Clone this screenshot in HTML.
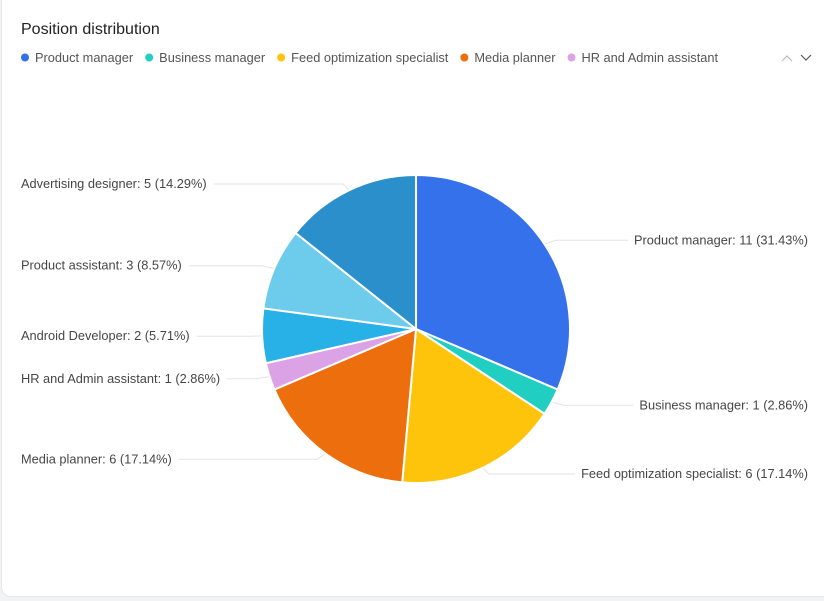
<!DOCTYPE html>
<html><head><meta charset="utf-8"><style>
body{margin:0;width:824px;height:601px;background:#f2f3f5;font-family:"Liberation Sans",sans-serif;overflow:hidden}
#card{position:absolute;left:1px;top:-10px;width:840px;height:605px;background:#fff;border-radius:10px;border:1px solid #e8e8e8}
svg{position:absolute;left:0;top:0}
text{font-family:"Liberation Sans",sans-serif}
</style></head><body>
<div id="card"></div>
<svg id="chart" width="824" height="601">
<text x="21" y="34" font-size="16" fill="#222">Position distribution</text>
<g id="legend"></g>
<g id="pager">
<path d="M782 61 L787 56 L792 61" fill="none" stroke="#bbb" stroke-width="1.2"/>
<path d="M801 55 L806 60 L811 55" fill="none" stroke="#555" stroke-width="1.2"/>
</g>
<g id="lines"></g><g id="slices"></g><g id="labels"></g>
</svg>
<script>
const categories=["Product manager","Business manager","Feed optimization specialist","Media planner","HR and Admin assistant","Android Developer","Product assistant","Advertising designer"];
const values=[11,1,6,6,1,2,3,5];
const colors=["#3571ea","#20cfc1","#fec40c","#ec6e0d","#dba2e5","#27b1e6","#6dcbec","#2a8fcb"];
const legendCount=5;
const NS="http://www.w3.org/2000/svg";
function mk(t,a,p){const e=document.createElementNS(NS,t);for(const k in a)e.setAttribute(k,a[k]);p.appendChild(e);return e;}
const lg=document.getElementById('legend');let lx=21;
for(let i=0;i<legendCount;i++){
 const g=mk('g',{},lg);
 
 
 mk('circle',{cx:lx+4,cy:57.5,r:4,fill:colors[i]},g);
 const t=mk('text',{x:lx+14,y:62,'font-size':12.8,fill:'#555'},g);t.textContent=categories[i];
 lx+=14+t.getComputedTextLength()+12;
}
const cx=416,cy=329,r=154;
const total=values.reduce((a,b)=>a+b,0);
const ang=v=>v/total*2*Math.PI;
function pt(a,rr){return [cx+rr*Math.sin(a),cy-rr*Math.cos(a)];}
let acc=0;
const sg=document.getElementById('slices'),lg2=document.getElementById('lines'),tg=document.getElementById('labels');
values.forEach((v,i)=>{
 const a0=ang(acc),a1=ang(acc+v);acc+=v;
 const p0=pt(a0,r),p1=pt(a1,r);const large=(a1-a0)>Math.PI?1:0;
 const s=mk('path',{d:`M${cx},${cy} L${p0[0]},${p0[1]} A${r},${r} 0 ${large} 1 ${p1[0]},${p1[1]} Z`,fill:colors[i],stroke:'#fff','stroke-width':2},sg);
 
 
 const am=(a0+a1)/2;const e=pt(am,r),b=pt(am,r+14);const right=Math.sin(am)>=0;
 const ly=cy-(r+7)*Math.cos(am);
 const pct=(v/total*100).toFixed(2);
 const t=mk('text',{y:ly+4,'font-size':12.8,fill:'#464646'},tg);
 t.textContent=`${categories[i]}: ${v} (${pct}%)`;
 
 
 let endX;
 if(right){t.setAttribute('x',808);t.setAttribute('text-anchor','end');endX=808-t.getComputedTextLength()-6;}
 else{t.setAttribute('x',21);endX=21+t.getComputedTextLength()+7;}
 const l=mk('polyline',{points:`${e[0]},${e[1]} ${b[0]},${ly} ${endX},${ly}`,fill:'none',stroke:'#e3e3e3','stroke-width':1},lg2);
 
 
});
</script>
</body></html>
